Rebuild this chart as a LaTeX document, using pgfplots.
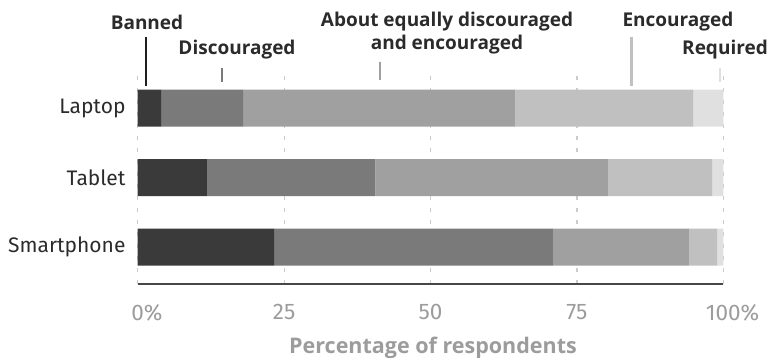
\documentclass[border=0pt]{standalone}
\usepackage{pgfplots}
\pgfplotsset{compat=1.18}
\usepackage{fontspec}
\setmainfont{Fira Sans}
\newfontfamily\keyfont{Open Sans}

\definecolor{cBan}{HTML}{3A3A3A}
\definecolor{cDis}{HTML}{7A7A7A}
\definecolor{cEq}{HTML}{A0A0A0}
\definecolor{cEnc}{HTML}{C0C0C0}
\definecolor{cReq}{HTML}{E0E0E0}
\definecolor{txt}{HTML}{2B2B2B}
\definecolor{ticktxt}{HTML}{9C9C9C}

\newcommand{\lbl}{\keyfont\fontsize{19}{23}\selectfont\bfseries}

\begin{document}
\begin{tikzpicture}[x=1pt,y=1pt]
\useasboundingbox (-137.7,-74) rectangle (637.3,284);
\begin{axis}[
  at={(0,0)}, anchor=south west, scale only axis,
  width=585.6pt, height=211pt,
  xbar stacked, bar width=37pt,
  xmin=0, xmax=100, ymin=-0.532, ymax=2.504,
  axis x line*=bottom, axis y line*=left,
  x axis line style={draw=black!72, line width=1.4pt, -},
  y axis line style={draw=none},
  major tick length=0pt,
  xtick={0,25,50,75,100},
  xticklabels={0\rlap{\%},25,50,75,100\rlap{\%}},
  ytick={0,1,2}, yticklabels={Smartphone,Tablet,Laptop},
  /pgf/number format/assume math mode=true,
  xmajorgrids,
  grid style={dash pattern=on 4pt off 8pt, draw=black!20, line width=1.2pt},
  xticklabel style={font=\fontsize{22.5}{27}\selectfont, text=ticktxt,
    inner sep=0pt, anchor=north, yshift=-20pt},
  yticklabel style={font=\fontsize{21}{25}\selectfont, text=txt,
    inner sep=0pt, anchor=east, xshift=-12pt},
  clip=false,
]
\addplot+[fill=cBan, draw=none] coordinates {(23.3,0) (11.8,1) (4.0,2)};
\addplot+[fill=cDis, draw=none] coordinates {(47.6,0) (28.8,1) (14.0,2)};
\addplot+[fill=cEq,  draw=none] coordinates {(23.2,0) (39.7,1) (46.5,2)};
\addplot+[fill=cEnc, draw=none] coordinates {(4.9,0)  (17.8,1) (30.4,2)};
\addplot+[fill=cReq, draw=none] coordinates {(1.0,0)  (1.9,1)  (5.1,2)};
\end{axis}

% category key above the bars
\node[text=txt, font=\lbl] at (9.3,262) {Banned};
\draw[line width=2.6pt, draw=black!88] (8.3,247) -- (8.3,198);

\node[text=txt, font=\lbl] at (99.3,234) {Discouraged};
\draw[line width=2.6pt, draw=cDis] (84.3,216) -- (84.3,202);

\node[text=txt, font=\lbl] at (309.3,262) {About equally discouraged};
\node[text=txt, font=\lbl] at (309.3,239) {and encouraged};
\draw[line width=2.6pt, draw=cEq] (242.3,222) -- (242.3,204);

\node[text=txt, font=\lbl] at (540.3,262) {Encouraged};
\draw[line width=2.6pt, draw=cEnc] (494,247) -- (494,198);

\node[text=txt, font=\lbl] at (587.3,234) {Required};
\draw[line width=2.6pt, draw=cReq] (582.3,216) -- (582.3,202);

% axis title
\node[text=ticktxt, font=\keyfont\fontsize{21.5}{25}\selectfont\bfseries]
  at (295.3,-64) {Percentage of respondents};
\end{tikzpicture}
\end{document}
